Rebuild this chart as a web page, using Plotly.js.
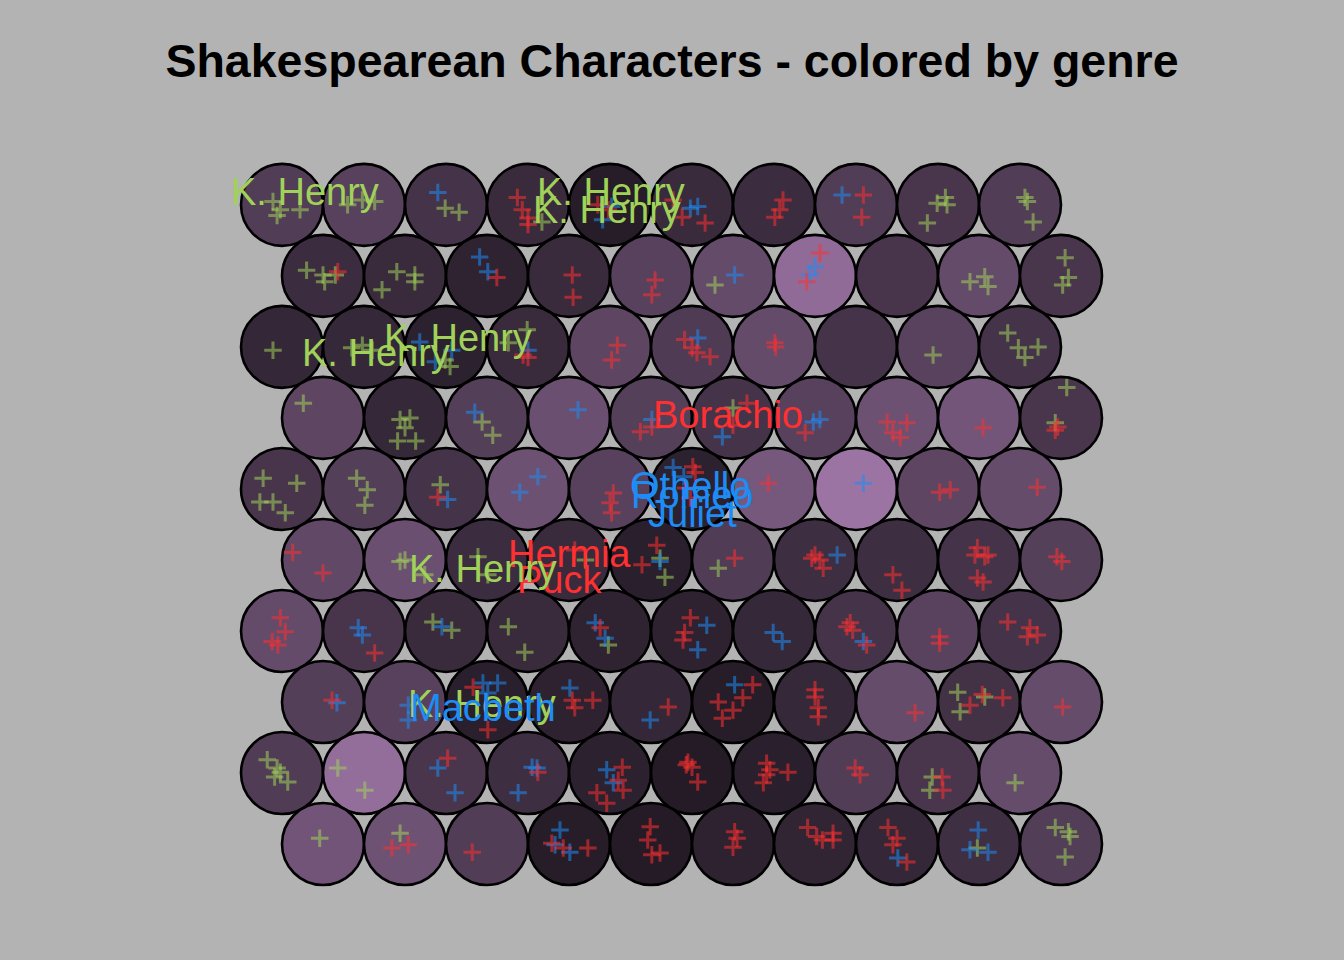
<!DOCTYPE html>
<html>
<head>
<meta charset="utf-8">
<script src="https://cdn.plot.ly/plotly-3.0.1.min.js"></script>
<style>html,body{margin:0;padding:0;background:#B3B3B3;}#chart{width:1344px;height:960px;}</style>
</head>
<body>
<div id="chart"></div>
<script>
// ---- DATA ----
const chartTitle = "Shakespearean Characters - colored by genre";
const genres = ["history", "comedy", "tragedy"];
const genreColors = ["#A0D25A", "#1E8CF5", "#FF3030"];

// Shade value (0 = darkest, 10 = lightest) of each SOM unit, rows from top, 10 units per row
const unitShade = [
  4.0, 4.5, 3.0, 2.0, 0.5, 2.0, 2.2, 4.0, 3.3, 4.0,
  2.2, 2.0, 1.2, 2.0, 4.5, 5.5, 9.0, 3.2, 5.5, 3.3,
  1.6, 1.7, 1.0, 2.0, 5.0, 3.8, 5.5, 3.0, 4.6, 3.0,
  5.0, 1.7, 4.2, 6.0, 4.3, 3.0, 4.5, 6.2, 6.6, 3.3,
  3.2, 4.2, 3.0, 6.2, 4.5, 1.0, 7.0, 10.0, 5.0, 5.6,
  5.2, 6.0, 2.2, 2.0, 0.8, 3.9, 2.4, 2.4, 3.0, 4.3,
  5.5, 3.2, 2.0, 2.0, 1.2, 1.1, 1.7, 3.0, 4.6, 3.0,
  4.2, 4.5, 0.8, 1.1, 1.6, 0.5, 1.7, 5.6, 2.8, 5.6,
  3.9, 9.3, 3.3, 2.4, 1.0, 0.3, 0.8, 4.0, 3.3, 5.6,
  6.5, 6.3, 4.0, 0.5, 0.3, 1.1, 1.4, 1.6, 2.5, 4.1
];

// Characters mapped to units: [unit, jitter dx, jitter dy] (jitter in hundredths of a unit)
const historyChars = [
  [0,-11,4],[0,-2,-6],[0,22,-6],[0,-6,-13],[1,-20,0],[1,-2,6],[1,13,4],[2,-1,-4],[2,16,-9],[3,17,-21],
  [8,-1,2],[8,11,0],[8,9,9],[8,-13,-22],[9,6,9],[9,9,4],[9,16,-21],
  [10,-20,7],[10,0,1],[10,2,-7],[10,15,1],[11,-10,5],[11,12,1],[11,12,-7],[11,-28,-17],[15,-22,-11],
  [18,-11,-7],[18,7,-1],[18,11,-13],[19,5,22],[19,9,-2],[19,2,-11],
  [20,-11,-4],[21,-15,-1],[21,-2,2],[21,10,-4],[22,-1,-16],[22,5,-24],[23,-1,21],[23,-24,5],[28,-6,-10],
  [29,-15,17],[29,-2,-1],[29,6,-13],[29,22,0],
  [30,-24,18],[31,-6,-2],[31,6,0],[31,0,-12],[31,-9,-28],[31,13,-28],[32,-6,-5],[32,7,-21],[35,0,12],[39,7,37],[39,-7,-6],
  [40,-23,13],[40,18,7],[40,-27,-16],[40,-11,-16],[40,4,-29],[41,-9,13],[41,4,-1],[41,1,-20],[42,-7,5],
  [51,-6,-2],[51,0,0],[51,24,-18],[52,-11,4],[52,1,-18],[53,20,0],[54,11,2],[54,17,-21],[55,-18,-10],
  [62,-16,11],[62,7,1],[63,-24,5],[63,-4,-26],[64,-2,-17],
  [78,-26,12],[78,7,6],[78,-23,-12],
  [80,-18,16],[80,-6,6],[80,-9,-5],[80,7,-11],[80,-2,1],[81,-32,6],[81,1,-21],[88,-7,-5],[88,-10,-21],[89,-6,-12],
  [90,-4,7],[91,-6,13],[98,-2,-5],[99,-7,20],[99,11,9],[99,9,15],[99,5,-16]
];
const comedyChars = [
  [2,-10,15],[4,-9,-18],[4,2,-2],[5,-2,-4],[5,7,-2],[7,-17,12],
  [12,-9,23],[12,1,5],[15,2,1],[16,0,11],[16,-6,1],
  [22,-13,-18],[22,7,-4],[22,-32,6],[23,0,-4],[25,7,11],
  [32,-15,7],[33,11,10],[34,1,-2],[35,-13,-23],[36,-2,-5],[36,6,-2],
  [42,2,-13],[43,12,15],[43,-10,-4],[45,-23,26],[45,-10,15],[47,9,7],
  [54,11,-2],[56,27,6],
  [61,-7,4],[61,-2,-5],[62,-5,5],[64,-18,10],[64,-6,-9],[65,18,7],[65,7,-23],[66,-1,-2],[66,10,-13],[67,9,-13],
  [70,17,-1],[71,4,-4],[71,4,-22],[72,-5,23],[72,13,23],[72,1,11],[73,1,17],[74,-1,-22],[75,2,21],
  [82,-10,6],[82,11,-24],[83,5,7],[83,11,6],[83,-12,-24],[84,-4,4],[84,4,-12],
  [93,-11,17],[93,-17,-1],[93,1,-10],[97,1,-17],[98,-1,17],[98,-11,-7],[98,11,-10]
];
const tragedyChars = [
  [3,-13,9],[3,-7,-6],[3,0,-16],[3,0,-24],[4,-15,0],[4,-2,-6],[5,-23,6],[5,-12,-15],[5,16,-22],
  [6,11,6],[6,7,-6],[6,1,-15],[7,9,12],[7,7,-15],
  [10,18,5],[12,12,-2],[13,4,1],[13,5,-26],[14,5,-5],[14,1,-23],[16,6,28],[16,-10,-7],
  [23,-6,-10],[23,0,-13],[24,9,2],[24,2,-16],[25,-9,9],[25,0,-1],[25,6,-7],[25,22,-12],[26,1,5],[26,2,0],
  [34,-13,-17],[34,1,-11],[35,17,18],[35,0,-9],[36,-12,-18],[37,-12,-5],[37,12,-6],[37,-5,-18],[37,4,-24],
  [38,5,-12],[39,-4,-11],[39,-7,-15],
  [42,-10,-10],[44,4,-5],[44,0,-17],[44,2,-29],[45,1,27],[45,4,20],[45,-8,1],[45,-2,-11],[46,-7,7],
  [48,2,-4],[48,15,-1],[49,21,2],
  [50,-37,9],[50,0,-16],[53,7,12],[54,7,18],[54,-11,-6],[55,2,2],[56,-4,2],[56,6,0],[56,10,-10],[56,0,6],
  [57,-5,-18],[57,6,-37],[58,-2,15],[58,7,4],[58,-5,6],[58,-2,-22],[58,5,-27],[58,11,6],[59,-5,4],[59,1,-2],
  [60,-2,16],[60,4,-1],[60,-12,-13],[60,-5,-17],[61,13,-27],[64,-12,4],[65,-2,16],[65,-9,-2],[65,-11,-11],
  [67,-7,10],[67,-4,1],[67,-11,5],[67,13,-17],[68,2,-7],[68,2,-15],[69,-15,11],[69,12,4],[69,9,-7],[69,21,-5],
  [70,11,2],[72,-17,18],[72,1,-34],[73,4,2],[73,29,2],[73,7,-7],[74,21,-6],
  [75,24,21],[75,-18,0],[75,12,5],[75,0,-10],[75,-13,-20],[76,0,15],[76,0,6],[76,4,-7],[76,4,-18],
  [77,22,-13],[78,4,9],[78,29,5],[78,-11,-4],[79,2,-6],
  [82,2,18],[83,12,1],[84,15,7],[84,10,-9],[84,16,-21],[84,-16,-24],[84,-4,-37],
  [85,-5,13],[85,0,7],[85,7,-11],[85,-7,10],[86,-9,12],[86,-9,-2],[86,-13,-12],[86,17,1],[86,-5,4],
  [87,-1,6],[87,5,-2],[88,5,-5],[88,6,-21],
  [91,-16,-5],[91,4,-1],[92,-18,-10],[93,-21,1],[93,-7,-5],[93,23,-5],[94,-1,21],[94,-4,5],[94,1,-13],[94,11,-11],
  [95,2,15],[95,0,-4],[95,5,7],[96,-9,20],[96,2,9],[96,22,13],[96,22,5],[96,9,5],
  [97,-11,20],[97,0,7],[97,-5,-1],[97,12,-22]
];

// Labelled characters: name, genre index, unit, dx, dy
const labelNames  = ["K. Henry","K. Henry","K. Henry","K. Henry","K. Henry","Borachio","Othello","Romeo","Juliet","Hermia","Puck","K. Henry","K. Henry","Macbeth"];
const labelGenre  = [0,0,0,0,0,2,1,1,1,2,2,0,0,1];
const labelUnit   = [0,4,4,22,21,35,45,45,45,53,53,52,72,72];
const labelDx     = [28,1,-4,15,15,-6,-2,1,0,1,-11,-5,-6,-5];
const labelDy     = [16,16,-6,11,-7,4,3,-8,-30,7,-24,-11,-3,-7];

// ---- HELPERS ----
const NCOL = 10;
function unitCenter(u) {
  const r = Math.floor(u / NCOL), c = u % NCOL;
  return [c + 1 + (r % 2 ? 0.5 : 0), (10 - r) * Math.sqrt(3) / 2];
}
function hex2rgb(h){return [parseInt(h.slice(1,3),16),parseInt(h.slice(3,5),16),parseInt(h.slice(5,7),16)];}
function rgba(h,a){const c=hex2rgb(h);return `rgba(${c[0]},${c[1]},${c[2]},${a})`;}
const darkShade = hex2rgb("#201822"), lightShade = hex2rgb("#9C74A4");
function shadeColor(v){
  const t = Math.max(0, Math.min(1, v / 10));
  const c = darkShade.map((d,i)=>Math.round(d + (lightShade[i]-d)*t));
  return `rgb(${c[0]},${c[1]},${c[2]})`;
}

// ---- SHAPES (units) ----
const shapes = unitShade.map((v, u) => {
  const [x, y] = unitCenter(u);
  return {type:"circle", xref:"x", yref:"y", x0:x-0.5, x1:x+0.5, y0:y-0.5, y1:y+0.5,
          fillcolor: shadeColor(v), line:{color:"#000000", width:2.6}, layer:"below"};
});

// ---- TRACES (characters) ----
function toXY(list){
  const xs=[], ys=[];
  list.forEach(([u,dx,dy])=>{const [x,y]=unitCenter(u); xs.push(x+dx/100); ys.push(y+dy/100);});
  return [xs,ys];
}
const charLists = [historyChars, comedyChars, tragedyChars];
const traces = charLists.map((lst, g) => {
  const [xs, ys] = toXY(lst);
  return {type:"scatter", mode:"markers", x:xs, y:ys, name:genres[g], hoverinfo:"skip",
    marker:{symbol:"cross-thin-open", size:12.5, color:rgba(genreColors[g],0.55),
            line:{width:3, color:rgba(genreColors[g],0.55)}}};
});

const annotations = labelNames.map((t,i)=>{
  const [x,y]=unitCenter(labelUnit[i]);
  return {x:x+labelDx[i]/100, y:y+labelDy[i]/100, xref:"x", yref:"y", text:t, showarrow:false,
          xanchor:"center", yanchor:"middle",
          font:{family:"Liberation Sans, Arial, sans-serif", size:38, color:genreColors[labelGenre[i]]}};
});

// ---- LAYOUT ----
const pxPerUnit = 82, W = 1344, H = 960;
const mL = 233, mR = 234, mT = 152, mB = 70;
const x0px = 282, y0px = 844; // pixel position of unit (1, sqrt(3)/2)
const plotW = W - mL - mR, plotH = H - mT - mB;
const xr0 = 1 + (mL - x0px) / pxPerUnit;
const xr1 = xr0 + plotW / pxPerUnit;
const yBase = Math.sqrt(3)/2;
const yr0 = yBase - (H - mB - y0px) / pxPerUnit;
const yr1 = yr0 + plotH / pxPerUnit;

const layout = {
  width: W, height: H,
  paper_bgcolor: "#B3B3B3", plot_bgcolor: "#B3B3B3",
  margin: {l:mL, r:mR, t:mT, b:mB, autoexpand:false},
  showlegend: false,
  title: {text: "<b>" + chartTitle + "</b>", x:0.5, xanchor:"center", y:1-61/960, yanchor:"middle",
          font:{family:"Liberation Sans, Arial, sans-serif", size:46.5, color:"#000000"}},
  xaxis: {range:[xr0, xr1], visible:false, fixedrange:true},
  yaxis: {range:[yr0, yr1], visible:false, fixedrange:true},
  shapes: shapes,
  annotations: annotations
};

Plotly.newPlot("chart", traces, layout, {displayModeBar:false, staticPlot:true});
</script>
</body>
</html>
